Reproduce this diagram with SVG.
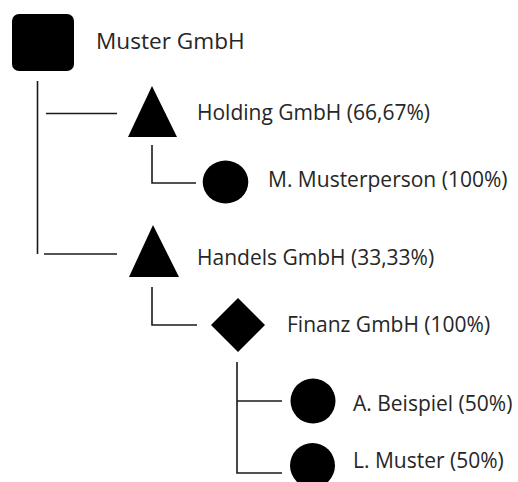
<svg xmlns="http://www.w3.org/2000/svg" width="518" height="482" viewBox="0 0 518 482">
<style>
.s{fill:#000}
.c{stroke:#1a1a1a;stroke-width:1.6;fill:none}
text{font-family:"Open Sans","Noto Sans","DejaVu Sans",sans-serif;font-size:21px;fill:#262626}
</style>
<rect width="518" height="482" fill="#fff"/>
<g id="connectors">
<line class="c" x1="37.5" y1="81" x2="37.5" y2="254"/>
<line class="c" x1="46" y1="113.5" x2="117" y2="113.5"/>
<line class="c" x1="44" y1="254" x2="117" y2="254"/>
<polyline class="c" points="152,145 152,183 196,183"/>
<polyline class="c" points="152,287 152,325 197,325"/>
<polyline class="c" points="237,362 237,473 282,473"/>
<line class="c" x1="237" y1="401" x2="282" y2="401"/>
</g>
<g id="muster-gmbh">
<rect class="s" x="12" y="14" width="62" height="57" rx="7"/>
<text x="96" y="49" style="font-size:22.6px">Muster GmbH</text>
</g>
<g id="holding-gmbh">
<polygon class="s" points="152,86 128,137 177,137"/>
<text x="197" y="120">Holding GmbH (66,67%)</text>
</g>
<g id="m-musterperson">
<ellipse class="s" cx="225.5" cy="182" rx="22.8" ry="21.5"/>
<text x="268" y="187">M. Musterperson (100%)</text>
</g>
<g id="handels-gmbh">
<polygon class="s" points="153,225 129,277 179,277"/>
<text x="197" y="265">Handels GmbH (33,33%)</text>
</g>
<g id="finanz-gmbh">
<polygon class="s" points="238,298 265,325 238,352 211,325"/>
<text x="287" y="332">Finanz GmbH (100%)</text>
</g>
<g id="a-beispiel">
<circle class="s" cx="313" cy="401" r="22.5"/>
<text x="353" y="411">A. Beispiel (50%)</text>
</g>
<g id="l-muster">
<circle class="s" cx="312.5" cy="465.5" r="22.5"/>
<text x="353" y="468">L. Muster (50%)</text>
</g>
</svg>
